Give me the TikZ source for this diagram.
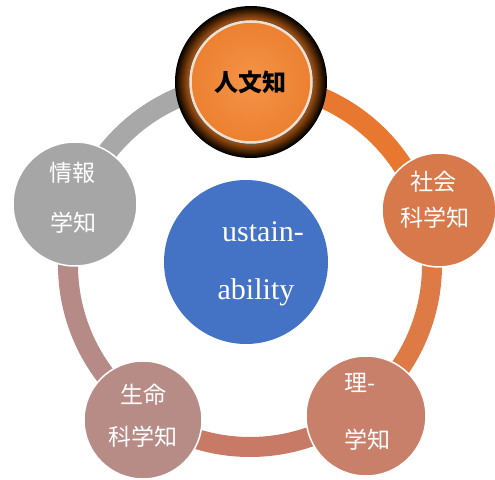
\documentclass[tikz,border=0pt]{standalone}
\usepackage{fontspec}
\setmainfont{Liberation Serif}
\newfontfamily\cjk{Noto Sans CJK JP}
\definecolor{topor}{HTML}{F08838}
\definecolor{haloA}{HTML}{B0560F}
\definecolor{arcgray}{HTML}{A8A8A8}
\definecolor{arcor}{HTML}{E8772F}
\definecolor{arcright}{HTML}{DD7A45}
\definecolor{arcbot}{HTML}{C97A66}
\definecolor{arcleft}{HTML}{B58A87}
\definecolor{cgray}{HTML}{A6A6A6}
\definecolor{csoc}{HTML}{D8794B}
\definecolor{csci}{HTML}{C9806A}
\definecolor{clife}{HTML}{B78C87}
\definecolor{cblue}{HTML}{4472C4}
\definecolor{inA}{HTML}{F49448}
\definecolor{inB}{HTML}{EC8030}
\tikzset{
  ringarc/.style={line width=20pt},
  disc/.style={circle, draw=white, line width=1.5pt, inner sep=0pt},
  lbl/.style={text=white, font=\cjk\fontsize{23}{28}\selectfont, inner sep=0pt},
  eng/.style={text=white, font=\fontsize{30}{36}\selectfont, inner sep=0pt}
}
\begin{document}
\begin{tikzpicture}[x=1pt,y=1pt]
\useasboundingbox (0,0) rectangle (495,479);
\fill[white] (0,0) rectangle (495,479);
\coordinate (ring) at (250,214);
% ring arcs
\draw[ringarc, arcgray] (ring) ++(162:182pt) arc[start angle=162, end angle=90, radius=182pt];
\draw[ringarc, arcor] (ring) ++(90:182pt) arc[start angle=90, end angle=18, radius=182pt];
\draw[ringarc, arcright] (ring) ++(18:182pt) arc[start angle=18, end angle=-54, radius=182pt];
\draw[ringarc, arcbot] (ring) ++(-54:182pt) arc[start angle=-54, end angle=-126, radius=182pt];
\draw[ringarc, arcleft] (ring) ++(-126:182pt) arc[start angle=-126, end angle=-198, radius=182pt];
% outer circles
\node[disc, fill=cgray, minimum size=124pt] (info) at (75,275) {};
\node[disc, fill=csoc, minimum size=114pt] (soc) at (439,269) {};
\node[disc, fill=csci, minimum size=120pt] (sci) at (366,63) {};
\node[disc, fill=clife, minimum size=118pt] (life) at (143,59) {};
\node[circle, fill=cblue, minimum size=164pt, inner sep=0pt] (sus) at (246,217) {};
% top circle with dark halo
\coordinate (hc) at (251,397);
\foreach \i in {0,...,14}{
  \pgfmathtruncatemacro{\pct}{\i*50/7}
  \pgfmathtruncatemacro{\rad}{76-\i}
  \fill[haloA!\pct!black] (hc) circle[radius=\rad pt];
}
\node[circle, inner color=inA, outer color=inB, draw=white!75!brown, line width=2.5pt, minimum size=121pt, inner sep=0pt] (hum) at (hc) {};
\draw[gray!70!black, line width=0.6pt] (hum.center) circle[radius=62.5pt];
% labels
\node[font=\cjk\bfseries\fontsize{24}{28}\selectfont, text=black, inner sep=0pt] (humt) at (250,397) {人文知};
\node[lbl] (info1) at (72,306) {情報};
\node[lbl] (info2) at (73,256) {学知};
\node[lbl] (soc1) at (433,297) {社会};
\node[lbl] (soc2) at (435,261) {科学知};
\node[lbl] (life1) at (143,84) {生命};
\node[lbl] (life2) at (143,42) {科学知};
\node[lbl] (sci1) at (360,96) {理-};
\node[lbl] (sci2) at (367,39) {学知};
\node[eng] (sus1) at (263,247) {ustain-};
\node[eng] (sus2) at (256,187) {ability};
\end{tikzpicture}
\end{document}
